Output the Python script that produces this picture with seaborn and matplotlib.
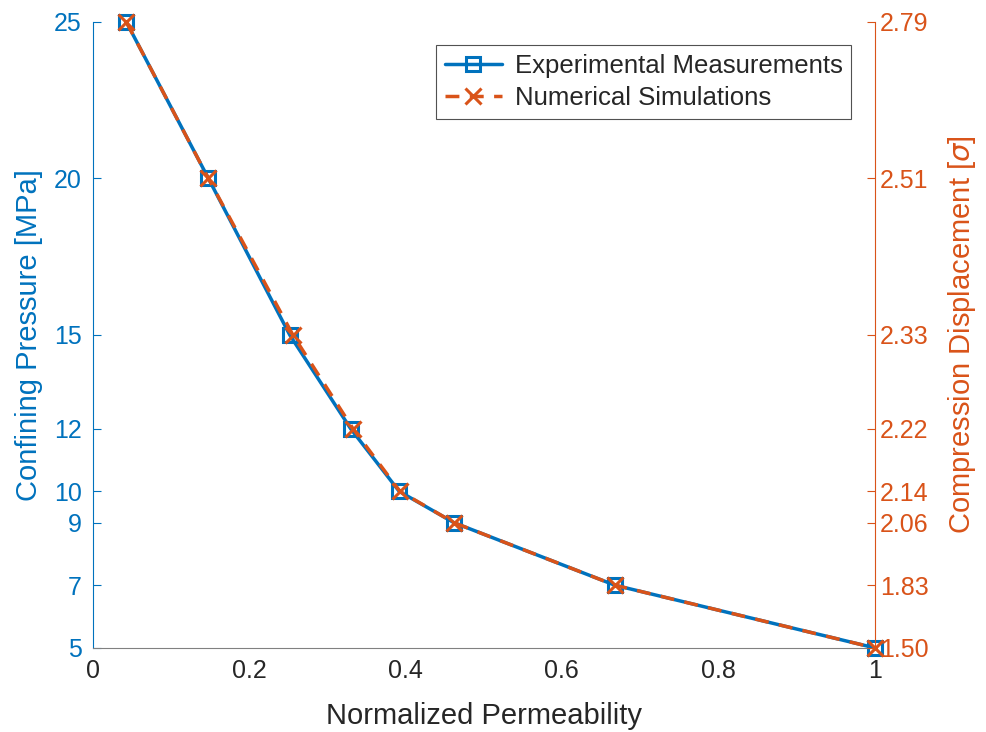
import matplotlib
matplotlib.use("Agg")
import matplotlib.pyplot as plt
import seaborn as sns
import pandas as pd

# data
perm_exp = [0.043, 0.148, 0.252, 0.330, 0.392, 0.462, 0.668, 1.0]
perm_sim = [0.043, 0.148, 0.256, 0.333, 0.393, 0.462, 0.668, 1.0]
pressure = [25, 20, 15, 12, 10, 9, 7, 5]
left_ticks = [5, 7, 9, 10, 12, 15, 20, 25]
right_labels = ['1.50', '1.83', '2.06', '2.14', '2.22', '2.33', '2.51', '2.79']

BLUE = '#0072BD'
ORANGE = '#D95319'
GREY = '#262626'

sns.set_style('white')
plt.rcParams['font.family'] = ['Liberation Sans', 'DejaVu Sans']
plt.rcParams['mathtext.fontset'] = 'dejavusans'

df_exp = pd.DataFrame({'perm': perm_exp, 'p': pressure})
df_sim = pd.DataFrame({'perm': perm_sim, 'p': pressure})

fig = plt.figure(figsize=(9.86, 7.32), dpi=100)
ax = fig.add_axes([0.094, 0.115, 0.793, 0.855])

sns.lineplot(data=df_exp, x='perm', y='p', ax=ax, color=BLUE, lw=2.5, marker='s',
             markersize=10, markerfacecolor='none', markeredgecolor=BLUE, markeredgewidth=2.2,
             label='Experimental Measurements', sort=False, estimator=None, clip_on=False)
sns.lineplot(data=df_sim, x='perm', y='p', ax=ax, color=ORANGE, lw=2.5, linestyle=(0, (4, 3)),
             marker='x', markersize=11, markeredgewidth=2.2, markeredgecolor=ORANGE,
             label='Numerical Simulations', sort=False, estimator=None, clip_on=False)

ax.set_xlim(0, 1)
ax.set_ylim(5, 25)
ax.set_xticks([0, 0.2, 0.4, 0.6, 0.8, 1])
ax.set_xticklabels(['0', '0.2', '0.4', '0.6', '0.8', '1'])
ax.set_yticks(left_ticks)
ax.set_xlabel('Normalized Permeability', fontsize=21, color=GREY, labelpad=14)
ax.set_ylabel('Confining Pressure [MPa]', fontsize=21, color=BLUE, labelpad=8)

ax.tick_params(axis='x', direction='in', length=6, colors=GREY, labelsize=18, pad=8)
ax.tick_params(axis='y', direction='in', length=6, colors=BLUE, labelsize=18, pad=8)
ax.spines['top'].set_visible(False)
ax.spines['left'].set_color(BLUE)
ax.spines['bottom'].set_color('#808080')
ax.spines['right'].set_visible(False)

ax2 = ax.twinx()
ax2.set_ylim(5, 25)
ax2.set_yticks(left_ticks)
ax2.set_yticklabels(right_labels)
ax2.tick_params(axis='y', direction='in', length=6, colors=ORANGE, labelsize=18, pad=4)
ax2.set_ylabel(r'Compression Displacement [$\sigma$]', fontsize=21, color=ORANGE, labelpad=12)
for s in ['top', 'left', 'bottom']:
    ax2.spines[s].set_visible(False)
ax2.spines['right'].set_color(ORANGE)

leg = ax.legend(loc='upper right', fontsize=18.5, frameon=True, fancybox=False,
                edgecolor='#262626', borderaxespad=0.9, handlelength=2.2,
                borderpad=0.35, labelspacing=0.3, handletextpad=0.5)
leg.get_frame().set_linewidth(0.8)

fig.savefig('out.png', dpi=100)
